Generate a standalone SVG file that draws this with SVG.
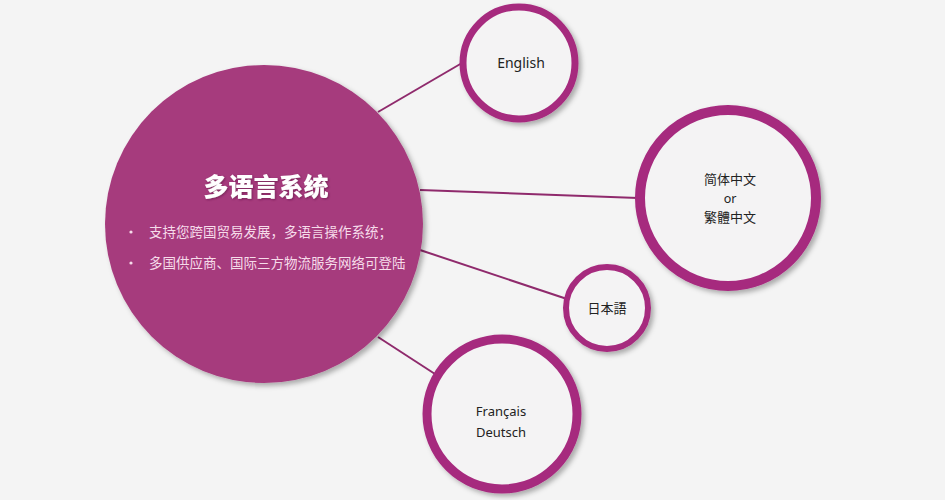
<svg xmlns="http://www.w3.org/2000/svg" width="945" height="500" viewBox="0 0 945 500">
<defs>
<filter id="sh" x="-20%" y="-20%" width="140%" height="140%">
<feDropShadow dx="3" dy="3" stdDeviation="2.5" flood-color="#000" flood-opacity="0.3"/>
</filter>
<filter id="tsh" x="-10%" y="-30%" width="120%" height="160%">
<feDropShadow dx="1" dy="1" stdDeviation="0.8" flood-color="#5a1040" flood-opacity="0.6"/>
</filter>
</defs>
<style>
.ring{fill:#f4f3f4;stroke:#a62a7e;filter:url(#sh)}
.lbl{font-family:"Noto Sans","Open Sans","Noto Sans CJK SC",sans-serif;font-size:14px;fill:#222;text-anchor:middle}
.cn{font-family:"Noto Sans CJK SC","Noto Sans CJK TC",sans-serif;font-size:13px}
.bul{font-family:"Noto Sans CJK SC",sans-serif;font-size:13.5px;fill:#f6dcea}
.conn{stroke:#8f2a6c;stroke-width:2;fill:none}
</style>
<rect width="945" height="500" fill="#f4f4f4"/>
<g id="connectors">
<line class="conn" x1="378" y1="112" x2="462" y2="63"/>
<line class="conn" x1="420" y1="190" x2="638" y2="198"/>
<line class="conn" x1="420" y1="250" x2="567" y2="299"/>
<line class="conn" x1="378" y1="337" x2="435" y2="374"/>
</g>
<g id="main">
<circle cx="264" cy="224" r="159" fill="#a63b7d" filter="url(#sh)"/>
<text x="266" y="196" text-anchor="middle" font-family="Noto Sans CJK SC,sans-serif" font-size="25" font-weight="900" fill="#fff" filter="url(#tsh)">多语言系统</text>
<circle cx="131" cy="232" r="1.6" fill="#f6dcea"/>
<text class="bul" x="149" y="237">支持您跨国贸易发展，多语言操作系统；</text>
<circle cx="131" cy="263" r="1.6" fill="#f6dcea"/>
<text class="bul" x="149" y="268">多国供应商、国际三方物流服务网络可登陆</text>
</g>
<g id="english">
<circle class="ring" cx="519" cy="63" r="56" stroke-width="7"/>
<text class="lbl" x="521" y="68">English</text>
</g>
<g id="chinese">
<circle class="ring" cx="728" cy="198" r="88" stroke-width="10"/>
<text class="lbl cn" x="730" y="184">简体中文</text>
<text class="lbl" x="730" y="203" style="font-size:12.5px">or</text>
<text class="lbl cn" x="730" y="222">繁體中文</text>
</g>
<g id="japanese">
<circle class="ring" cx="607" cy="308" r="41" stroke-width="6"/>
<text class="lbl" x="607" y="313" style="font-family:'Noto Sans CJK JP',sans-serif;font-size:13px">日本語</text>
</g>
<g id="european">
<circle class="ring" cx="502" cy="414" r="75" stroke-width="9"/>
<text class="lbl" x="501" y="416" style="font-size:13px">Français</text>
<text class="lbl" x="501" y="437" style="font-size:13px">Deutsch</text>
</g>
</svg>
